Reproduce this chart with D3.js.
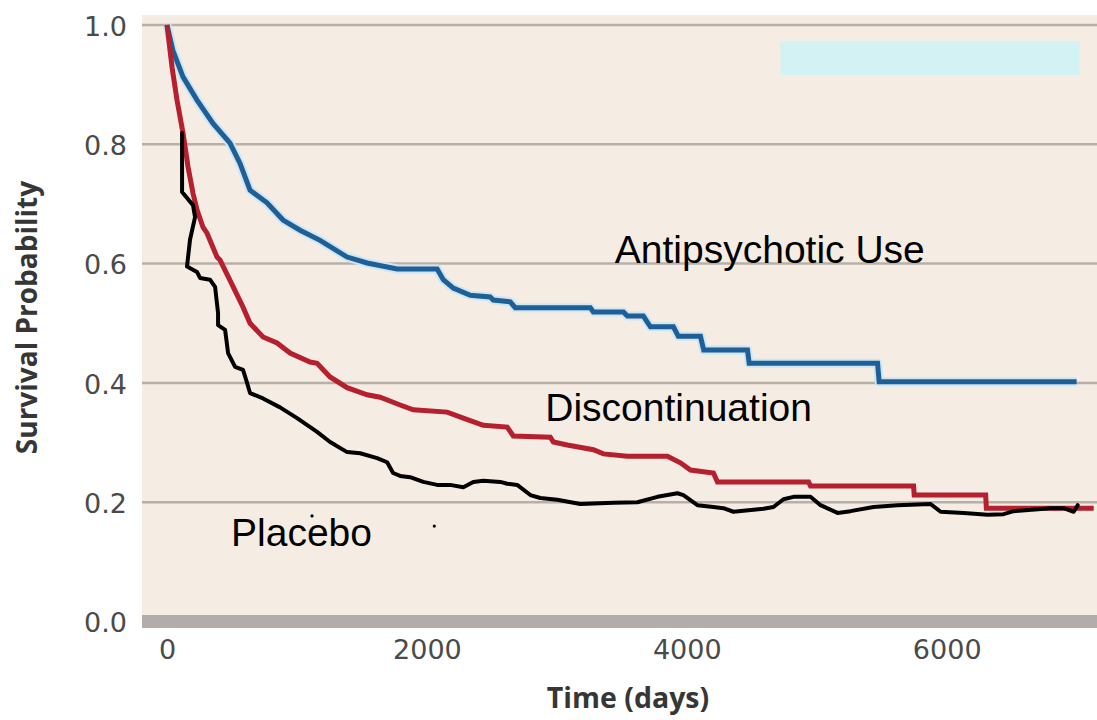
<!DOCTYPE html>
<html>
<head>
<meta charset="utf-8">
<script src="https://cdn.jsdelivr.net/npm/d3@7"></script>
<style>
  html, body { margin: 0; padding: 0; background: #ffffff; }
  svg { display: block; }
</style>
</head>
<body>
<svg id="chart" width="1097" height="720"></svg>
<script>
// ---------- data (time in days, survival probability) ----------
const xTicks = [0, 2000, 4000, 6000];
const yTicks = [0.0, 0.2, 0.4, 0.6, 0.8, 1.0];

const antipsychoticUse = [
  [0,1.0],[46,0.957],[123,0.913],[231,0.874],[354,0.835],[485,0.802],[562,0.768],
  [639,0.723],[770,0.702],[893,0.673],[1024,0.656],[1178,0.639],[1386,0.611],
  [1540,0.601],[1771,0.591],[2079,0.591],[2126,0.573],[2203,0.559],[2334,0.547],
  [2487,0.544],[2511,0.539],[2641,0.536],[2680,0.526],[3258,0.526],[3281,0.519],
  [3512,0.519],[3543,0.512],[3666,0.512],[3720,0.494],[3897,0.494],[3935,0.478],
  [4105,0.478],[4130,0.455],[4467,0.455],[4480,0.433],[5468,0.433],[5480,0.402],
  [7000,0.402]
];

const discontinuation = [
  [0,1.0],[39,0.929],[77,0.874],[123,0.819],[162,0.762],[200,0.718],[231,0.690],
  [277,0.661],[308,0.651],[385,0.611],[408,0.606],[485,0.572],[585,0.527],
  [639,0.500],[739,0.477],[847,0.467],[947,0.450],[1101,0.435],[1155,0.433],
  [1255,0.410],[1386,0.392],[1540,0.380],[1640,0.376],[1794,0.363],[1895,0.355],
  [2156,0.351],[2280,0.341],[2434,0.329],[2618,0.326],[2665,0.311],[2950,0.309],
  [2973,0.301],[3080,0.296],[3281,0.288],[3358,0.281],[3543,0.277],[3851,0.277],
  [3951,0.266],[4028,0.254],[4205,0.249],[4236,0.234],[4937,0.234],[4952,0.227],
  [5745,0.227],[5750,0.212],[6300,0.212],[6305,0.190],[7131,0.190]
];

const placebo = [
  [116,0.819],[116,0.720],[200,0.698],[216,0.678],[177,0.640],[154,0.595],
  [231,0.586],[254,0.576],[331,0.573],[370,0.561],[393,0.517],[393,0.497],
  [447,0.489],[470,0.450],[524,0.427],[585,0.422],[616,0.400],[639,0.383],
  [739,0.374],[870,0.359],[1001,0.341],[1155,0.318],[1255,0.301],[1386,0.284],
  [1486,0.282],[1617,0.274],[1694,0.267],[1740,0.249],[1794,0.244],[1871,0.242],
  [1972,0.234],[2079,0.229],[2179,0.229],[2280,0.225],[2357,0.234],[2434,0.236],
  [2565,0.234],[2618,0.231],[2695,0.229],[2796,0.212],[2873,0.207],[3003,0.204],
  [3181,0.197],[3435,0.199],[3620,0.200],[3774,0.209],[3928,0.215],[3974,0.212],
  [4082,0.195],[4205,0.192],[4282,0.190],[4359,0.184],[4590,0.189],[4667,0.192],
  [4744,0.205],[4821,0.209],[4952,0.209],[5029,0.195],[5160,0.182],[5260,0.185],
  [5437,0.192],[5622,0.195],[5876,0.197],[5953,0.184],[6130,0.182],[6315,0.179],
  [6438,0.180],[6515,0.185],[6800,0.190],[6900,0.190],[6977,0.184],[7008,0.195]
];

const seriesLabels = [
  { text: "Antipsychotic Use", t: 3446, p: 0.601 },
  { text: "Discontinuation",   t: 2911, p: 0.336 },
  { text: "Placebo",           t: 493,  p: 0.126 }
];
const strayDots = [[1116, 0.177], [2057, 0.160]];
const maskBox = { t0: 4721, t1: 7023, p0: 0.916, p1: 0.973 };

// ---------- layout ----------
const svg = d3.select("#chart");
const plotLeft = 142, plotRight = 1097, plotTop = 15, plotBottom = 628;

const x = d3.scaleLinear().domain([0, 6000]).range([167, 946.7]);
const y = d3.scaleLinear().domain([0, 1]).range([621.5, 25]);

// background
svg.append("rect")
  .attr("x", plotLeft).attr("y", plotTop)
  .attr("width", plotRight - plotLeft).attr("height", plotBottom - plotTop)
  .attr("fill", "#f5ede3");

// gridlines
svg.append("g").selectAll("line")
  .data(yTicks.filter(d => d > 0))
  .join("line")
  .attr("x1", plotLeft).attr("x2", plotRight)
  .attr("y1", d => y(d)).attr("y2", d => y(d))
  .attr("stroke", "#b8b0a8").attr("stroke-width", 2.5);

// zero baseline bar
svg.append("line")
  .attr("x1", plotLeft).attr("x2", plotRight)
  .attr("y1", y(0)).attr("y2", y(0))
  .attr("stroke", "#b2adaa").attr("stroke-width", 13);

// mask box
svg.append("rect")
  .attr("x", x(maskBox.t0)).attr("y", y(maskBox.p1))
  .attr("width", x(maskBox.t1) - x(maskBox.t0))
  .attr("height", y(maskBox.p0) - y(maskBox.p1))
  .attr("fill", "#d3f2f4");

// axes
const tickFont = "DejaVu Sans, sans-serif";
const yAxis = svg.append("g")
  .attr("transform", `translate(${plotLeft},0)`)
  .call(d3.axisLeft(y).tickValues(yTicks).tickFormat(d3.format(".1f")).tickSize(0).tickPadding(15));
const xAxis = svg.append("g")
  .attr("transform", `translate(0,${plotBottom})`)
  .call(d3.axisBottom(x).tickValues(xTicks).tickFormat(d3.format("d")).tickSize(0).tickPadding(12));
[yAxis, xAxis].forEach(g => {
  g.select(".domain").remove();
  g.selectAll("text")
    .attr("font-family", tickFont).attr("font-size", 27)
    .attr("fill", "#4a4a4a");
});
yAxis.selectAll("text").attr("dy", "0.38em");

// axis titles
svg.append("text")
  .attr("transform", `translate(37,${(180 + 455) / 2}) rotate(-90)`)
  .attr("text-anchor", "middle")
  .attr("font-family", "Open Sans, sans-serif").attr("font-weight", 700)
  .attr("font-size", 28).attr("fill", "#363636")
  .text("Survival Probability");
svg.append("text")
  .attr("x", 628).attr("y", 708)
  .attr("text-anchor", "middle")
  .attr("font-family", "Open Sans, sans-serif").attr("font-weight", 700)
  .attr("font-size", 28.5).attr("fill", "#363636")
  .text("Time (days)");

// curves
const line = d3.line().x(d => x(d[0])).y(d => y(d[1])).curve(d3.curveLinear);

svg.append("path").datum(antipsychoticUse)
  .attr("d", line).attr("fill", "none")
  .attr("stroke", "#cde6f1").attr("stroke-width", 9).attr("stroke-linejoin", "round");
svg.append("path").datum(antipsychoticUse)
  .attr("d", line).attr("fill", "none")
  .attr("stroke", "#1e5f97").attr("stroke-width", 5).attr("stroke-linejoin", "miter");

svg.append("path").datum(discontinuation)
  .attr("d", line).attr("fill", "none")
  .attr("stroke", "#b51f2e").attr("stroke-width", 5).attr("stroke-linejoin", "miter");

svg.append("path").datum(placebo)
  .attr("d", line).attr("fill", "none")
  .attr("stroke", "#000000").attr("stroke-width", 4)
  .attr("stroke-linejoin", "round").attr("stroke-linecap", "round");

// stray dots
svg.append("g").selectAll("circle")
  .data(strayDots).join("circle")
  .attr("cx", d => x(d[0])).attr("cy", d => y(d[1])).attr("r", 1.6)
  .attr("fill", "#000");

// series labels
svg.append("g").selectAll("text")
  .data(seriesLabels).join("text")
  .attr("x", d => x(d.t)).attr("y", d => y(d.p))
  .attr("font-family", "Liberation Sans, Arial, sans-serif")
  .attr("font-size", 39).attr("fill", "#000")
  .text(d => d.text);
</script>
</body>
</html>
